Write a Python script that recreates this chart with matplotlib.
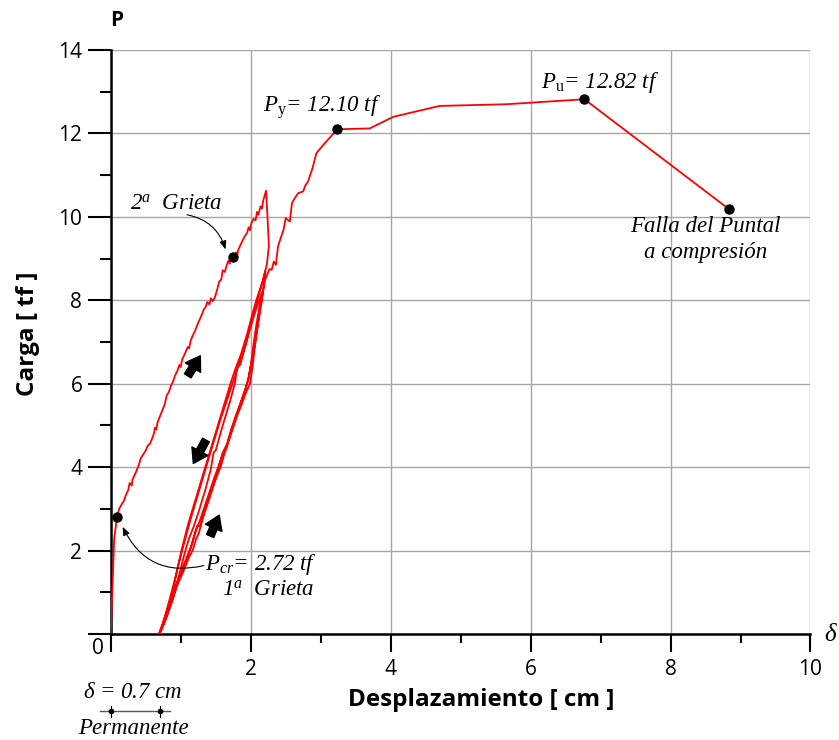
import matplotlib
matplotlib.use("Agg")
import matplotlib.pyplot as plt
import numpy as np

# ---- data ----
# virgin loading up to first peak
load1_x = [0.00, 0.02, 0.04, 0.05, 0.07, 0.09, 0.12, 0.16, 0.19, 0.22, 0.25, 0.27, 0.30, 0.31,
           0.36, 0.40, 0.43, 0.47, 0.50, 0.53, 0.56, 0.59, 0.62, 0.63, 0.65, 0.67, 0.71, 0.74,
           0.77, 0.80, 0.83, 0.86, 0.89, 0.92, 0.95, 0.98, 1.00, 1.02, 1.06, 1.10, 1.12, 1.14,
           1.17, 1.20, 1.23, 1.26, 1.30, 1.33, 1.36, 1.38, 1.41, 1.43, 1.46, 1.49, 1.52, 1.55,
           1.58, 1.60, 1.63, 1.65, 1.68, 1.70, 1.72, 1.75, 1.77, 1.79, 1.80, 1.82, 1.86, 1.89,
           1.92, 1.95, 1.97, 1.99, 2.01, 2.04, 2.07, 2.09, 2.11, 2.14, 2.16, 2.18, 2.22]
load1_y = [0.00, 0.90, 1.80, 2.30, 2.55, 2.80, 3.00, 3.12, 3.20, 3.35, 3.45, 3.62, 3.56, 3.70,
           3.88, 4.05, 4.22, 4.32, 4.40, 4.52, 4.56, 4.68, 4.82, 4.95, 4.90, 5.08, 5.25, 5.38,
           5.50, 5.72, 5.80, 5.95, 6.05, 6.20, 6.30, 6.45, 6.40, 6.58, 6.72, 6.88, 6.85, 7.02,
           7.15, 7.25, 7.38, 7.50, 7.65, 7.78, 7.85, 7.96, 7.90, 8.05, 7.98, 8.08, 8.25, 8.45,
           8.50, 8.72, 8.68, 8.80, 8.95, 8.88, 9.02, 9.05, 8.95, 9.15, 8.98, 9.20, 9.35, 9.45,
           9.55, 9.62, 9.75, 9.68, 9.85, 9.95, 9.92, 10.12, 10.05, 10.25, 10.20, 10.40, 10.63]

# unload / reload cycles
cyc_x = [2.24, 2.26, 2.23, 2.17, 2.13, 2.08, 2.04, 1.95, 1.86, 1.78, 1.71, 1.62, 1.52, 1.44,
         1.35, 1.27, 1.18, 1.10, 1.01, 0.94, 0.87, 0.78, 0.72, 0.69,
         0.74, 0.80, 0.88, 0.96, 1.05, 1.12, 1.17, 1.22, 1.26, 1.30, 1.36, 1.42, 1.48, 1.53,
         1.57, 1.62, 1.68, 1.75, 1.81, 1.87, 1.93, 1.99, 2.03, 2.06, 2.10, 2.13, 2.16, 2.19, 2.21,
         2.18, 2.10, 2.02, 1.94, 1.85, 1.80, 1.78, 1.70, 1.60, 1.50, 1.47, 1.43, 1.35, 1.26,
         1.18, 1.12, 1.05, 0.96, 0.88, 0.80, 0.72, 0.70,
         0.76, 0.84, 0.92, 1.00, 1.08, 1.14, 1.20, 1.24, 1.28, 1.33, 1.40, 1.46, 1.52, 1.55,
         1.60, 1.66, 1.72, 1.78, 1.85, 1.92, 1.97, 2.01, 2.04, 2.08, 2.12, 2.16,
         2.14, 2.06, 1.98, 1.90, 1.83, 1.76, 1.66, 1.56, 1.46, 1.38, 1.30, 1.22, 1.14, 1.06,
         0.98, 0.90, 0.82, 0.75, 0.70,
         0.78, 0.86, 0.95, 1.03, 1.10, 1.16, 1.22, 1.27, 1.34, 1.41, 1.48, 1.54, 1.60, 1.65,
         1.70, 1.76, 1.83, 1.90, 1.96, 2.00, 2.05, 2.09, 2.13, 2.17]
cyc_y = [10.00, 9.30, 8.85, 8.45, 8.25, 8.00, 7.77, 7.20, 6.70, 6.35, 6.00, 5.50, 4.95, 4.50,
         4.00, 3.55, 3.05, 2.60, 2.00, 1.45, 0.90, 0.45, 0.15, 0.00,
         0.18, 0.45, 0.82, 1.20, 1.55, 1.85, 2.00, 2.28, 2.42, 2.70, 3.00, 3.30, 3.62, 3.85,
         4.00, 4.30, 4.60, 4.95, 5.25, 5.50, 5.78, 6.00, 6.45, 6.90, 7.35, 7.70, 8.00, 8.40, 8.70,
         8.50, 8.05, 7.55, 7.00, 6.45, 6.40, 6.05, 5.55, 5.00, 4.40, 4.35, 3.95, 3.45, 2.95,
         2.55, 2.30, 1.90, 1.30, 0.80, 0.40, 0.08, 0.02,
         0.30, 0.70, 1.10, 1.45, 1.75, 2.05, 2.40, 2.60, 2.58, 2.90, 3.25, 3.55, 3.82, 4.05,
         4.35, 4.55, 4.90, 5.20, 5.52, 5.85, 6.15, 6.55, 6.95, 7.40, 7.80, 8.20,
         8.10, 7.70, 7.25, 6.80, 6.45, 6.10, 5.60, 5.10, 4.55, 4.10, 3.65, 3.20, 2.75, 2.25,
         1.75, 1.20, 0.70, 0.25, 0.04,
         0.40, 0.80, 1.25, 1.60, 1.90, 2.15, 2.50, 2.70, 3.05, 3.40, 3.75, 4.02, 4.30, 4.45,
         4.75, 5.05, 5.40, 5.75, 6.05, 6.40, 6.85, 7.30, 7.75, 8.15]

# final envelope to failure
env_x = [2.20, 2.23, 2.27, 2.30, 2.33, 2.36, 2.39, 2.43, 2.47, 2.50, 2.56, 2.59, 2.63, 2.68,
         2.75, 2.78, 2.82, 2.88, 2.94, 3.05, 3.24, 3.70, 4.04, 4.70, 5.65, 6.77, 8.84]
env_y = [8.45, 8.60, 8.75, 8.73, 8.93, 8.85, 9.29, 9.50, 9.69, 9.97, 9.89, 10.33, 10.45, 10.57,
         10.61, 10.75, 10.85, 11.15, 11.53, 11.75, 12.10, 12.12, 12.40, 12.66, 12.70, 12.82, 10.18]

# key points (black dots)
pts_x = [0.09, 1.75, 3.24, 6.77, 8.84]
pts_y = [2.80, 9.05, 12.10, 12.82, 10.18]

x_ticks = [0, 2, 4, 6, 8, 10]
y_ticks = [0, 2, 4, 6, 8, 10, 12, 14]

# ---- fonts ----
plt.rcParams["mathtext.fontset"] = "custom"
plt.rcParams["mathtext.rm"] = "Liberation Serif"
plt.rcParams["mathtext.it"] = "Liberation Serif:italic"
plt.rcParams["mathtext.bf"] = "Liberation Serif:bold"
SANS = "Open Sans"
SERIF = "Liberation Serif"

fig = plt.figure(figsize=(8.39, 7.40), dpi=100)
ax = fig.add_axes([0.132, 0.1432, 0.834, 0.7892])

curve_x = np.concatenate([load1_x, cyc_x, env_x])
curve_y = np.concatenate([load1_y, cyc_y, env_y])
ax.plot(curve_x, curve_y, color="red", lw=1.3, zorder=3)
ax.plot(pts_x, pts_y, "o", color="black", ms=6.5, zorder=4)

ax.set_xlim(0, 10)
ax.set_ylim(0, 14)
ax.set_xticks(x_ticks)
ax.set_xticklabels([""] + [str(v) for v in x_ticks[1:]])
ax.set_yticks(y_ticks)
ax.set_yticklabels([""] + [str(v) for v in y_ticks[1:]])
ax.set_xticks(np.arange(1, 10, 2), minor=True)
ax.set_yticks(np.arange(1, 14, 2), minor=True)
ax.tick_params(axis="x", which="major", direction="out", length=13, width=1.5, pad=5,
               labelsize=15)
ax.tick_params(axis="x", which="minor", direction="out", length=6.5, width=1.5)
ax.tick_params(axis="y", which="major", direction="out", length=16.5, width=1.5, pad=4,
               labelsize=15)
ax.tick_params(axis="y", which="minor", direction="out", length=8, width=1.5)
for lab in ax.get_xticklabels() + ax.get_yticklabels():
    lab.set_fontfamily(SANS)

for s in ("top", "right"):
    ax.spines[s].set_visible(False)
for s in ("left", "bottom"):
    ax.spines[s].set_linewidth(1.8)
ax.grid(True, which="major", color="#a6a6a6", lw=1.0, zorder=0)

ax.set_xlabel("Desplazamiento [ cm ]", fontsize=17.5, fontweight="bold", family=SANS)
ax.set_ylabel("Carga [ tf ]", fontsize=17.5, fontweight="bold", family=SANS)
ax.xaxis.set_label_coords(0.529, -0.113)
ax.yaxis.set_label_coords(-0.118, 0.515)
ax.xaxis.label.set_va("center")
ax.yaxis.label.set_va("center")

ax.text(-0.19, -0.35, "0", fontsize=15, family=SANS, ha="center", va="center")
ax.text(0.08, 14.7, "P", fontsize=15, fontweight="bold", family=SANS, ha="center", va="center",
        clip_on=False)
ax.text(10.3, 0.0, r"$\delta$", fontsize=18, ha="center", va="center", clip_on=False)

# annotations
it = dict(family=SERIF, style="italic", fontsize=16.5)
ax.text(3.02, 12.62, r"$P_{\mathrm{y}}$= 12.10 tf", ha="center", va="center", **it)
ax.text(7.0, 13.22, r"$P_{\mathrm{u}}$= 12.82 tf", ha="center", va="center", **it)
ax.text(8.5, 9.45, "Falla del Puntal\na compresión", ha="center", va="center",
        linespacing=1.3, **it)
ax.text(0.27, 10.3, r"2$^{a}$  Grieta", ha="left", va="center", **it)
ax.text(1.35, 1.53, r"$P_{cr}$= 2.72 tf", ha="left", va="baseline", **it)
ax.text(1.59, 0.91, r"1$^{a}$  Grieta", ha="left", va="baseline", **it)

thin = dict(arrowstyle="-|>,head_length=0.5,head_width=0.2", color="black", lw=0.8,
            shrinkA=0, shrinkB=0)
ax.annotate("", xy=(1.64, 9.22), xytext=(1.09, 10.05),
            arrowprops=dict(connectionstyle="arc3,rad=-0.3", **thin))
ax.annotate("", xy=(0.17, 2.57), xytext=(1.33, 1.64),
            arrowprops=dict(connectionstyle="arc3,rad=-0.4", **thin))

thick = dict(arrowstyle="simple,head_length=0.5,head_width=0.65,tail_width=0.28",
             fc="black", ec="black", mutation_scale=20, shrinkA=0, shrinkB=0)
ax.annotate("", xy=(1.28, 6.67), xytext=(1.10, 6.19), arrowprops=thick)
ax.annotate("", xy=(1.18, 4.09), xytext=(1.36, 4.65), arrowprops=thick)
ax.annotate("", xy=(1.55, 2.85), xytext=(1.42, 2.35), arrowprops=thick)

# permanent displacement marker below the axis
ax.plot([-0.15, 0.85], [-1.85, -1.85], color="#555555", lw=1.0, clip_on=False)
ax.plot([0.0, 0.7], [-1.85, -1.85], "o", color="black", ms=3, clip_on=False)
for xv in (0.0, 0.7):
    ax.plot([xv, xv], [-1.72, -1.98], color="black", lw=0.8, clip_on=False)
ax.text(0.32, -1.39, r"$\delta$ = 0.7 cm", ha="center", va="center", **it)
ax.text(0.32, -2.27, "Permanente", ha="center", va="center", **it)

fig.savefig("out.png", dpi=100)
